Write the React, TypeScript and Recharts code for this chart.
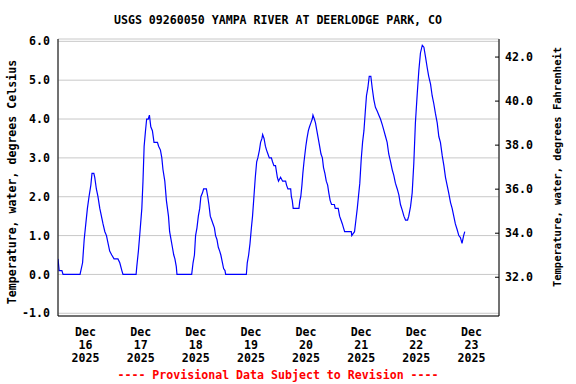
import React from 'react';
import { LineChart, Line, XAxis, YAxis, CartesianGrid } from 'recharts';

// hours since Dec 16 00:00
const hours = [
  0, 0.5, 1.7, 2.2, 9.6, 10.7, 11.4, 12.1, 12.8, 13.5, 14.3, 14.8, 15.6, 16.0, 16.7, 17.4, 18.2, 18.9, 19.6, 20.4,
  21.1, 21.8, 22.5, 23.4, 24.4, 26.1, 26.9, 27.8, 28.3, 34.0, 34.3, 35.0, 35.7, 36.5, 37.0, 37.5, 38.1, 38.6, 39.3, 39.8,
  40.4, 41.1, 41.8, 43.3, 43.8, 44.6, 45.2, 45.7, 46.5, 47.2, 48.1, 48.6, 49.2, 49.8, 50.4, 50.9, 51.5, 51.8, 58.2, 58.8,
  59.4, 59.9, 60.5, 61.1, 61.7, 62.2, 62.9, 63.4, 64.6, 65.2, 65.7, 66.3, 66.9, 67.5, 68.1, 68.6, 69.2, 69.8, 70.4, 70.9,
  71.6, 72.1, 72.7, 73.0, 82.0, 82.4, 83.0, 83.6, 84.2, 84.7, 85.3, 85.9, 86.5, 87.0, 87.7, 88.2, 88.8, 89.1, 89.7, 90.3,
  90.8, 91.4, 92.0, 92.9, 93.4, 94.0, 94.7, 95.5, 96.0, 96.9, 97.8, 99.1, 99.5, 100.1, 101.3, 101.6, 102.0, 102.4, 104.9, 105.3,
  105.7, 106.2, 106.6, 107.1, 107.5, 107.9, 108.4, 109.0, 109.5, 110.1, 110.7, 111.0, 111.6, 112.1, 112.7, 113.3, 113.9, 114.5, 115.1, 115.6,
  116.2, 116.8, 117.4, 117.9, 118.5, 119.1, 120.3, 120.7, 122.0, 122.6, 123.2, 123.8, 124.3, 124.8, 127.7, 127.9, 128.5, 129.1, 129.7, 130.3,
  130.8, 131.4, 132.0, 132.6, 133.2, 133.8, 134.3, 134.9, 135.5, 136.2, 136.8, 137.5, 138.2, 139.0, 139.7, 140.4, 141.2, 141.9, 142.6, 143.3,
  144.0, 144.8, 145.5, 146.2, 146.9, 147.7, 148.4, 149.1, 149.9, 150.6, 151.3, 152.2, 152.7, 153.5, 154.2, 154.9, 155.6, 156.4, 157.1, 157.8,
  158.6, 159.3, 160.0, 160.8, 161.4, 162.2, 162.9, 163.6, 164.3, 165.1, 165.8, 166.5, 167.3, 168.0, 168.7, 169.4, 170.1, 170.9, 171.6, 172.3,
  173.0, 173.8, 174.5, 175.2, 175.9, 176.6, 177.1,
];

const tempC = [
  0.4, 0.1, 0.1, 0.0, 0.0, 0.3, 0.9, 1.3, 1.7, 2.0, 2.3, 2.6, 2.6, 2.5, 2.2, 2.0, 1.7, 1.5, 1.3, 1.1,
  1.0, 0.8, 0.6, 0.5, 0.4, 0.4, 0.3, 0.1, 0.0, 0.0, 0.2, 0.6, 1.1, 1.7, 2.4, 3.3, 3.7, 4.0, 4.0, 4.1,
  3.8, 3.7, 3.4, 3.4, 3.3, 3.2, 3.0, 2.7, 2.4, 1.9, 1.5, 1.1, 0.9, 0.7, 0.5, 0.4, 0.2, 0.0, 0.0, 0.3,
  0.5, 1.0, 1.2, 1.5, 1.7, 2.0, 2.1, 2.2, 2.2, 2.0, 1.8, 1.5, 1.4, 1.3, 1.2, 1.0, 0.9, 0.7, 0.6, 0.5,
  0.3, 0.15, 0.1, 0.0, 0.0, 0.3, 0.5, 0.8, 1.2, 1.5, 2.0, 2.5, 2.9, 3.0, 3.2, 3.4, 3.5, 3.6, 3.5, 3.3,
  3.2, 3.1, 3.0, 3.0, 2.9, 2.8, 2.8, 2.5, 2.4, 2.5, 2.4, 2.4, 2.3, 2.2, 2.2, 2.0, 1.9, 1.7, 1.7, 1.9,
  2.0, 2.3, 2.6, 2.9, 3.1, 3.3, 3.5, 3.7, 3.8, 3.9, 4.0, 4.1, 4.0, 3.9, 3.7, 3.5, 3.3, 3.1, 3.0, 2.75,
  2.6, 2.4, 2.3, 2.1, 1.9, 1.8, 1.8, 1.7, 1.7, 1.5, 1.4, 1.3, 1.2, 1.1, 1.1, 1.0, 1.05, 1.1, 1.4, 1.7,
  2.0, 2.35, 2.95, 3.4, 3.7, 4.2, 4.6, 4.8, 5.1, 5.1, 4.8, 4.5, 4.3, 4.2, 4.1, 4.0, 3.85, 3.7, 3.55, 3.4,
  3.1, 2.9, 2.7, 2.55, 2.35, 2.2, 2.05, 1.8, 1.65, 1.5, 1.4, 1.4, 1.5, 1.75, 2.1, 2.85, 3.9, 4.65, 5.25, 5.7,
  5.9, 5.85, 5.6, 5.3, 5.1, 4.9, 4.6, 4.4, 4.15, 3.9, 3.55, 3.4, 3.05, 2.8, 2.5, 2.3, 2.1, 1.85, 1.7, 1.5,
  1.3, 1.15, 1.0, 0.95, 0.8, 1.0, 1.1,
];

const dayLabels = ['16', '17', '18', '19', '20', '21', '22', '23'];
const labelHours = [12, 36, 60, 84, 108, 132, 156, 180];
const gridHours = [24, 48, 72, 96, 120, 144, 168];
const celsiusTicks = [-1, 0, 1, 2, 3, 4, 5, 6];
const fahrenheitTicks = [32, 34, 36, 38, 40, 42];

const FONT = '"DejaVu Sans Mono", monospace';

// f is only there so the Fahrenheit axis has a series bound to it
const data = hours.map((h, i) => ({ h, c: tempC[i], f: tempC[i] * 1.8 + 32 }));

const DayTick = ({ x, y, payload }: any) => {
  const i = labelHours.indexOf(payload.value);
  return (
    <text x={x} y={y} textAnchor="middle" fontFamily={FONT} fontWeight="bold" fontSize={11.6} fill="#000">
      <tspan x={x} dy={18}>Dec</tspan>
      <tspan x={x} dy={13}>{dayLabels[i]}</tspan>
      <tspan x={x} dy={13}>2025</tspan>
    </text>
  );
};

const FTick = ({ x, y, payload }: any) => (
  <g>
    <line x1={x - 10} x2={x - 6} y1={y} y2={y} stroke="#000" />
    <text x={x} y={y + 4} textAnchor="start" fontFamily={FONT} fontWeight="bold" fontSize={11.6} fill="#000">
      {payload.value.toFixed(1)}
    </text>
  </g>
);

const App: React.FC = () => {
  return (
    <div style={{ position: 'absolute', left: 0, top: 0, width: 576, height: 384, background: '#fff', fontFamily: FONT }}>
      <div style={{ position: 'absolute', left: 0, width: 556, top: 12, textAlign: 'center', fontSize: 11.6, fontWeight: 'bold', lineHeight: '16px' }}>
        USGS 09260050 YAMPA RIVER AT DEERLODGE PARK, CO
      </div>
      <LineChart width={576} height={384} data={data} margin={{ top: 39, right: 0, bottom: 0, left: 0 }}>
        <XAxis xAxisId="top" orientation="top" dataKey="h" type="number" domain={[0, 192]} ticks={gridHours}
          tick={false} tickLine={false} height={0} axisLine={{ stroke: '#000' }} />
        <XAxis xAxisId="bot" dataKey="h" type="number" domain={[0, 192]} ticks={labelHours} allowDataOverflow
          tick={<DayTick />} tickLine={false} tickSize={0} height={68} axisLine={{ stroke: '#000' }} interval={0} />
        <YAxis yAxisId="c" type="number" domain={[-1.07, 6.06]} ticks={celsiusTicks} width={58} allowDataOverflow
          tickFormatter={(v: number) => v.toFixed(1)} tickLine={false} tickSize={0} tickMargin={8}
          tick={{ fill: '#000', fontSize: 11.6, fontFamily: FONT, fontWeight: 'bold' }} axisLine={{ stroke: '#000' }} interval={0} />
        <YAxis yAxisId="f" orientation="right" type="number" domain={[30.24, 42.82]} ticks={fahrenheitTicks} width={77} allowDataOverflow
          tickLine={false} tickSize={0} tickMargin={6} tick={<FTick />} axisLine={{ stroke: '#000' }} interval={0} />
        <CartesianGrid xAxisId="top" yAxisId="c" stroke="#c8c8c8" />
        <Line xAxisId="top" yAxisId="f" dataKey="f" stroke="none" dot={false} activeDot={false} isAnimationActive={false} />
        <Line xAxisId="bot" yAxisId="c" dataKey="c" stroke="#0000ff" strokeWidth={1.2} dot={false} isAnimationActive={false} type="linear" />
      </LineChart>
      <div style={{ position: 'absolute', left: 12, top: 182, transform: 'translate(-50%, -50%) rotate(-90deg)', whiteSpace: 'nowrap', fontSize: 11.6, fontWeight: 'bold' }}>
        Temperature, water, degrees Celsius
      </div>
      <div style={{ position: 'absolute', left: 557, top: 167, transform: 'translate(-50%, -50%) rotate(-90deg)', whiteSpace: 'nowrap', fontSize: 10.5, fontWeight: 'bold' }}>
        Temperature, water, degrees Fahrenheit
      </div>
      <div style={{ position: 'absolute', left: 0, width: 556, top: 367, textAlign: 'center', fontSize: 11.6, fontWeight: 'bold', color: '#ff0000', lineHeight: '16px' }}>
        ---- Provisional Data Subject to Revision ----
      </div>
    </div>
  );
};

export default App;
